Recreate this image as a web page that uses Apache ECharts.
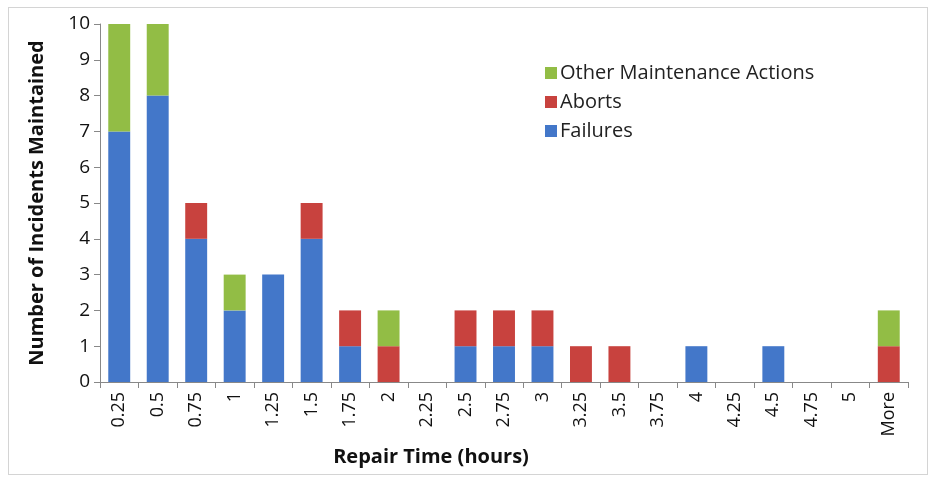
<!DOCTYPE html>
<html>
<head>
<meta charset="utf-8">
<script src="https://cdn.jsdelivr.net/npm/echarts@6/dist/echarts.min.js"></script>
<style>
  html, body { margin: 0; padding: 0; background: #fff; }
  #frame { position: absolute; left: 8px; top: 7px; width: 918px; height: 466px; border: 1px solid #d4d4d4; }
  #chart { position: absolute; left: 0; top: 0; width: 937px; height: 485px; }
</style>
</head>
<body>
<div id="frame"></div>
<div id="chart"></div>
<script>
  // 区间（小时）
  const categories = ['0.25', '0.5', '0.75', '1', '1.25', '1.5', '1.75', '2', '2.25', '2.5', '2.75',
    '3', '3.25', '3.5', '3.75', '4', '4.25', '4.5', '4.75', '5', 'More']
  const failures = [7, 8, 4, 2, 3, 4, 1, 0, 0, 1, 1, 1, 0, 0, 0, 1, 0, 1, 0, 0, 0]
  const aborts = [0, 0, 1, 0, 0, 1, 1, 1, 0, 1, 1, 1, 1, 1, 0, 0, 0, 0, 0, 0, 1]
  const otherActions = [3, 2, 0, 1, 0, 0, 0, 1, 0, 0, 0, 0, 0, 0, 0, 0, 0, 0, 0, 0, 1]

  const font = '"Open Sans", sans-serif'
  const myChart = echarts.init(document.getElementById('chart'))

  function barSeries(name, data, color) {
    return {
      name: name,
      type: 'bar',
      stack: 'total',
      barWidth: '57%',
      itemStyle: { color: color },
      data: data
    }
  }

  myChart.setOption({
    animation: false,
    textStyle: { fontFamily: font },
    grid: { left: 100, right: 29, top: 24, bottom: 103 },
    legend: {
      orient: 'vertical',
      left: 540,
      top: 58,
      itemWidth: 12,
      itemHeight: 12,
      itemGap: 9,
      icon: 'rect',
      textStyle: { fontSize: 20, color: '#222', fontFamily: font, padding: [0, 0, 0, -2] },
      data: ['Other Maintenance Actions', 'Aborts', 'Failures']
    },
    xAxis: {
      type: 'category',
      data: categories,
      name: 'Repair Time (hours)',
      nameLocation: 'middle',
      nameGap: 65,
      nameTextStyle: { fontSize: 20, fontWeight: 'bold', color: '#111', padding: [0, 146, 0, 0] },
      axisLine: { lineStyle: { color: '#888' } },
      axisTick: { show: true, length: 6, lineStyle: { color: '#888' } },
      axisLabel: { rotate: 90, fontSize: 18, color: '#111', margin: 10, interval: 0 }
    },
    yAxis: {
      type: 'value',
      min: 0,
      max: 10,
      interval: 1,
      name: 'Number of Incidents Maintained',
      nameLocation: 'middle',
      nameGap: 53,
      nameTextStyle: { fontSize: 20, fontWeight: 'bold', color: '#111' },
      splitLine: { show: false },
      axisLine: { show: true, lineStyle: { color: '#888' } },
      axisTick: { show: true, length: 6, lineStyle: { color: '#888' } },
      axisLabel: { fontSize: 19, color: '#111', margin: 10 }
    },
    series: [
      barSeries('Failures', failures, '#4377c9'),
      barSeries('Aborts', aborts, '#c8423e'),
      barSeries('Other Maintenance Actions', otherActions, '#92bd45')
    ]
  })
</script>
</body>
</html>
